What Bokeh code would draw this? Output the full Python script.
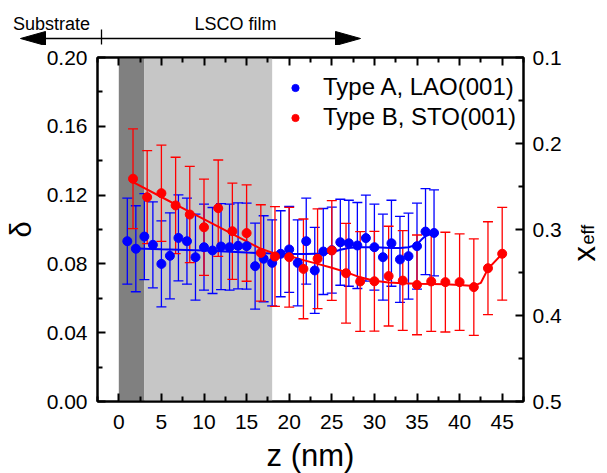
import math
from bokeh.plotting import figure
from bokeh.layouts import column, row
from bokeh.models import (Range1d, LinearAxis, FixedTicker, PrintfTickFormatter, BoxAnnotation,
                          Whisker, TeeHead, ColumnDataSource, Legend, LegendItem)
from bokeh.core.properties import value
from bokeh.embed import file_html
from bokeh.resources import INLINE

# ---------------- data ----------------
blue_z = [1, 2, 3, 4, 5, 6, 7, 8, 9, 10, 11, 12, 13, 14, 15, 16, 17, 18, 19, 20,
          21, 22, 23, 24, 25, 26, 27, 28, 29, 30, 31, 32, 33, 34, 35, 36, 37]
blue_d = [0.0932, 0.0888, 0.0959, 0.0911, 0.0800, 0.0847, 0.0951, 0.0932, 0.0839, 0.0897,
          0.0878, 0.0901, 0.0897, 0.0905, 0.0903, 0.0787, 0.0830, 0.0806, 0.0859, 0.0884,
          0.0806, 0.0932, 0.0762, 0.0872, 0.0880, 0.0926, 0.0920, 0.0907, 0.0950, 0.0897,
          0.0839, 0.0920, 0.0826, 0.0845, 0.0903, 0.0988, 0.0980]
blue_err = [0.025] * 37

red_z = [1.67, 3.33, 5.0, 6.67, 8.33, 10.0, 11.67, 13.33, 15.0, 16.67, 18.33, 20.0, 21.67, 23.33,
         25.0, 26.67, 28.33, 30.0, 31.67, 33.33, 35.0, 36.67, 38.33, 40.0, 41.67, 43.33, 45.0]
red_d = [0.1295, 0.1188, 0.1211, 0.1140, 0.1087, 0.1013, 0.1124, 0.0990, 0.0979, 0.0864,
         0.0843, 0.0839, 0.0771, 0.0830, 0.0878, 0.0746, 0.0698, 0.0699, 0.0729, 0.0703,
         0.0678, 0.0698, 0.0694, 0.0694, 0.0665, 0.0775, 0.0859]
red_err = [0.029, 0.027, 0.028, 0.028, 0.028, 0.028, 0.028, 0.028, 0.028, 0.028,
           0.029, 0.029, 0.029, 0.029, 0.029, 0.029, 0.029, 0.029, 0.029, 0.029,
           0.029, 0.029, 0.029, 0.028, 0.028, 0.027, 0.027]

# guide curves through the data
red_fit_z = [1.67, 5.0, 8.33, 11.67, 15.0, 16.67, 18.33, 20.0, 21.67, 23.33, 25.0, 26.67,
             28.33, 30.0, 31.67, 33.33, 35.0, 36.67, 38.33, 40.0, 41.67, 42.5, 43.33, 45.0]
red_fit_d = [0.1275, 0.1189, 0.1103, 0.1017, 0.0931, 0.0888, 0.0860, 0.0846, 0.0822, 0.0800,
             0.0778, 0.0752, 0.0722, 0.0702, 0.0692, 0.0688, 0.0685, 0.0683, 0.0681, 0.0678,
             0.0672, 0.0690, 0.0771, 0.0859]
blue_fit_z = [2, 5, 10, 15, 18, 20, 22, 24, 25, 26, 27, 28, 30, 32, 33, 34, 35, 35.5, 36, 37]
blue_fit_d = [0.0890, 0.0885, 0.0878, 0.0866, 0.0860, 0.0858, 0.0858, 0.0860, 0.0866, 0.0882,
              0.0893, 0.0897, 0.0897, 0.0893, 0.0893, 0.0897, 0.0912, 0.0940, 0.0962, 0.0980]

series_labels = ["Type A, LAO(001)", "Type B, STO(001)"]

x_ticks = [0, 5, 10, 15, 20, 25, 30, 35, 40, 45]
x_minor = [-2.5, 2.5, 7.5, 12.5, 17.5, 22.5, 27.5, 32.5, 37.5, 42.5, 47.5]
y_ticks = [0.00, 0.04, 0.08, 0.12, 0.16, 0.20]
y_minor = [0.02, 0.06, 0.10, 0.14, 0.18]
xeff_ticks = [0.1, 0.2, 0.3, 0.4, 0.5]
xeff_minor = [0.15, 0.25, 0.35, 0.45]

substrate_band = (0, 3)
film_band = (3, 18)

header_texts = ["Substrate", "LSCO film"]

# ---------------- layout (page pixels) ----------------
FONT = "Liberation Sans"
PAGE_W = 607
HEAD_H = 45
FL, FT, FW, FH = 97, 12, 426, 344
RB, BB = 44, 72
MAIN_W = FL + FW + RB
MAIN_H = FT + FH + BB
SIDE_W = PAGE_W - MAIN_W

# ---- header with the Substrate / LSCO film arrow ----
hd = figure(frame_width=PAGE_W, frame_height=HEAD_H, x_range=Range1d(0, PAGE_W),
            y_range=Range1d(HEAD_H, 0), output_backend="svg", toolbar_location=None,
            x_axis_location=None, y_axis_location=None, min_border=0,
            outline_line_color=None, background_fill_color="white", border_fill_color="white")
hd.grid.visible = False
ARW_Y, L_TIP, R_TIP, HEAD_LEN, HEAD_HALF, TICK_X = 38, 20, 360, 25, 7, 101
hd.segment(x0=[L_TIP + HEAD_LEN], y0=[ARW_Y], x1=[R_TIP - HEAD_LEN], y1=[ARW_Y],
           line_color="black", line_width=1.6)
hd.patches(xs=[[L_TIP, L_TIP + HEAD_LEN, L_TIP + HEAD_LEN], [R_TIP, R_TIP - HEAD_LEN, R_TIP - HEAD_LEN]],
           ys=[[ARW_Y, ARW_Y - HEAD_HALF, ARW_Y + HEAD_HALF], [ARW_Y, ARW_Y - HEAD_HALF, ARW_Y + HEAD_HALF]],
           fill_color="black", line_color="black")
hd.segment(x0=[TICK_X], y0=[29], x1=[TICK_X], y1=[44], line_color="black", line_width=1.3)
hd.text(x=[51, 235], y=[23, 23], text=header_texts, text_font=value(FONT),
        text_font_size="18px", text_align="center", text_baseline="alphabetic", text_color="black")

# ---- main plot ----
p = figure(frame_width=FW, frame_height=FH, x_range=Range1d(-2.5, 47.5), y_range=Range1d(0, 0.2),
           output_backend="svg", toolbar_location=None,
           min_border_left=FL, min_border_top=FT, min_border_right=RB, min_border_bottom=BB,
           background_fill_color="white", border_fill_color="white")
p.xgrid.visible = False
p.ygrid.visible = False
p.outline_line_color = "black"
p.outline_line_width = 2
p.extra_y_ranges = {"xeff": Range1d(0.5, 0.1)}


def style_axis(ax, standoff=10):
    ax.axis_line_width = 2
    ax.axis_line_color = "black"
    ax.major_tick_in = 8
    ax.major_tick_out = 0
    ax.minor_tick_in = 5
    ax.minor_tick_out = 0
    ax.major_tick_line_width = 2
    ax.minor_tick_line_width = 2
    ax.major_tick_line_color = "black"
    ax.minor_tick_line_color = "black"
    ax.major_label_text_font = FONT
    ax.major_label_text_font_size = "21px"
    ax.major_label_text_color = "black"
    ax.major_label_standoff = standoff
    ax.axis_label_text_font = FONT
    ax.axis_label_text_font_style = "normal"
    ax.axis_label_text_color = "black"


xa = p.xaxis[0]
xa.ticker = FixedTicker(ticks=x_ticks, minor_ticks=x_minor)
style_axis(xa, 13)
xa.axis_label = "z (nm)"
xa.axis_label_text_font_size = "31px"
xa.axis_label_standoff = 6

ya = p.yaxis[0]
ya.ticker = FixedTicker(ticks=y_ticks, minor_ticks=y_minor)
ya.formatter = PrintfTickFormatter(format="%.2f")
style_axis(ya, 10)
ya.axis_label = "δ"
ya.axis_label_text_font_size = "29px"
ya.axis_label_standoff = 7

ra = LinearAxis(y_range_name="xeff", ticker=FixedTicker(ticks=xeff_ticks, minor_ticks=xeff_minor),
                formatter=PrintfTickFormatter(format="%.1f"))
style_axis(ra, 9)
p.add_layout(ra, "right")

ta = LinearAxis(ticker=FixedTicker(ticks=x_ticks, minor_ticks=x_minor))
style_axis(ta, 0)
ta.major_label_text_color = None
ta.major_label_text_font_size = "0px"
p.add_layout(ta, "above")

p.add_layout(BoxAnnotation(left=substrate_band[0], right=substrate_band[1], fill_color="#808080",
                           fill_alpha=1, line_color=None, level="image"))
p.add_layout(BoxAnnotation(left=film_band[0], right=film_band[1], fill_color="#c6c6c6",
                           fill_alpha=1, line_color=None, level="image"))

bsrc = ColumnDataSource(dict(z=blue_z, d=blue_d,
                             up=[a + b for a, b in zip(blue_d, blue_err)],
                             lo=[a - b for a, b in zip(blue_d, blue_err)]))
rsrc = ColumnDataSource(dict(z=red_z, d=red_d,
                             up=[a + b for a, b in zip(red_d, red_err)],
                             lo=[a - b for a, b in zip(red_d, red_err)]))

for src, col in ((bsrc, "#0000ff"), (rsrc, "#ff0000")):
    p.add_layout(Whisker(source=src, base="z", upper="up", lower="lo", dimension="height",
                         line_color=col, line_width=1.3, level="underlay",
                         upper_head=TeeHead(size=10, line_color=col, line_width=1.3),
                         lower_head=TeeHead(size=10, line_color=col, line_width=1.3)))

p.line(blue_fit_z, blue_fit_d, line_color="#0000ff", line_width=2)
p.line(red_fit_z, red_fit_d, line_color="#ff0000", line_width=2)
bsc = p.scatter("z", "d", source=bsrc, size=9, fill_color="#0000ff", line_color="#0000ff")
rsc = p.scatter("z", "d", source=rsrc, size=9, fill_color="#ff0000", line_color="#ff0000")

legend = Legend(items=[LegendItem(label=series_labels[0], renderers=[bsc]),
                       LegendItem(label=series_labels[1], renderers=[rsc])],
                location=(189, 270), padding=0, spacing=2, glyph_width=18, glyph_height=25,
                label_height=25, label_standoff=19, border_line_color=None,
                background_fill_alpha=0, label_text_font=FONT, label_text_font_size="24px",
                label_text_color="black")
p.add_layout(legend)

# ---- right-hand title x_eff ----
sd = figure(frame_width=SIDE_W, frame_height=MAIN_H, x_range=Range1d(MAIN_W, PAGE_W),
            y_range=Range1d(HEAD_H + MAIN_H, HEAD_H), output_backend="svg", toolbar_location=None,
            x_axis_location=None, y_axis_location=None, min_border=0,
            outline_line_color=None, background_fill_color="white", border_fill_color="white")
sd.grid.visible = False
sd.text(x=[584], y=[249], text=["x"], angle=math.pi / 2, text_font=value(FONT),
        text_font_size="31px", text_align="left", text_baseline="alphabetic", text_color="black")
sd.text(x=[587], y=[232], text=["eff"], angle=math.pi / 2, text_font=value(FONT),
        text_font_size="18px", text_align="left", text_baseline="alphabetic", text_color="black")

layout = column(hd, row(p, sd, spacing=0), spacing=0)
open("out.html", "w").write(file_html(layout, INLINE))
